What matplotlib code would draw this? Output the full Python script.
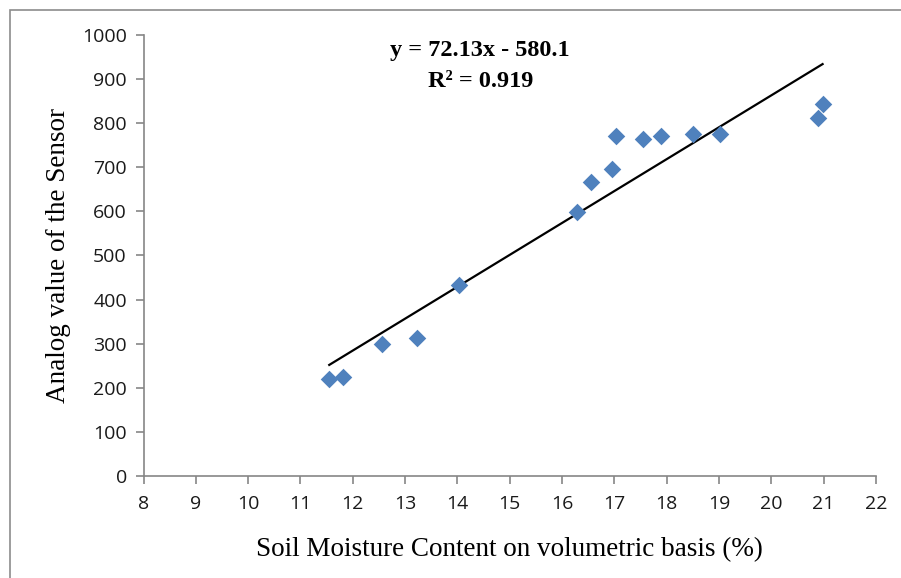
import matplotlib.pyplot as plt
import numpy as np
from matplotlib.patches import Rectangle

# Soil moisture (%) vs sensor analog reading
moisture = [11.55, 11.82, 12.55, 13.23, 14.03, 16.29, 16.56, 16.96, 17.03,
            17.55, 17.89, 18.50, 19.02, 20.89, 20.98]
analog = [220, 225, 300, 313, 432, 598, 666, 695, 770,
          764, 770, 775, 775, 811, 843]

x_ticks = list(range(8, 23))
y_ticks = list(range(0, 1001, 100))
equation = "y = 72.13x - 580.1"
r_squared = "R\u00b2 = 0.919"

fig = plt.figure(figsize=(9.01, 5.78), dpi=100)
ax = fig.add_axes([0.1593, 0.1765, 0.8129, 0.763])

ax.scatter(moisture, analog, marker='D', s=80, color='#4F81BD', zorder=3, linewidths=0)

# linear trendline over the data range
slope, intercept = np.polyfit(moisture, analog, 1)
xs = np.array([min(moisture), max(moisture)])
ax.plot(xs, slope * xs + intercept, color='black', lw=1.6, zorder=2)

ax.set_xlim(8, 22)
ax.set_ylim(0, 1000)
ax.set_xticks(x_ticks)
ax.set_yticks(y_ticks)
for lab in ax.get_xticklabels() + ax.get_yticklabels():
    lab.set_family('Open Sans')
    lab.set_fontsize(14)
    lab.set_color('#1a1a1a')

for side in ['top', 'right']:
    ax.spines[side].set_visible(False)
for side in ['left', 'bottom']:
    ax.spines[side].set_color('#868686')
    ax.spines[side].set_linewidth(1.2)
ax.tick_params(direction='out', length=6, width=1.2, color='#868686', pad=6)
ax.tick_params(axis='x', pad=8)

ax.set_xlabel('Soil Moisture Content on volumetric basis (%)', family='Liberation Serif',
              fontsize=19.5, labelpad=17)
ax.set_ylabel('Analog value of the Sensor', family='Liberation Serif', fontsize=19.5, labelpad=8)

fig.text(0.533, 0.912, equation, ha='center', va='center', family='Liberation Serif',
         fontsize=17.5, fontweight='bold')
fig.text(0.533, 0.859, r_squared, ha='center', va='center', family='Liberation Serif',
         fontsize=17.5, fontweight='bold')

# outer chart frame
fig.patches.append(Rectangle((10 / 901, -0.05), 1.0, 1 - 10 / 578 + 0.05, transform=fig.transFigure,
                             fill=False, edgecolor='#8c8c8c', lw=1.2))

fig.savefig('out.png', dpi=100)
